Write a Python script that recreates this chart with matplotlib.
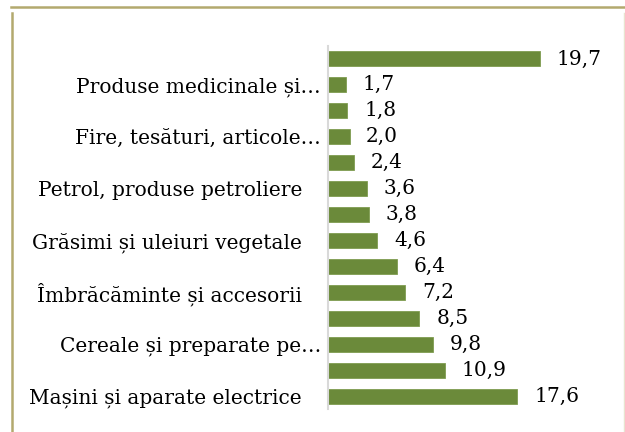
import matplotlib
matplotlib.use("Agg")
import matplotlib.pyplot as plt
from matplotlib.lines import Line2D

categories = [
    "Mașini și aparate electrice   ", "",
    "Cereale și preparate pe…", "",
    "Îmbrăcăminte și accesorii   ", "",
    "Grăsimi și uleiuri vegetale   ", "",
    "Petrol, produse petroliere   ", "",
    "Fire, tesături, articole…", "",
    "Produse medicinale și…", "",
]
values = [17.6, 10.9, 9.8, 8.5, 7.2, 6.4, 4.6, 3.8, 3.6, 2.4, 2.0, 1.8, 1.7, 19.7]
value_labels = [f"{v:.1f}".replace(".", ",") for v in values]

W, H = 625, 432
fig = plt.figure(figsize=(W / 100, H / 100), dpi=100)
fig.patch.set_facecolor("white")

px_per_unit = 10.76
ax_w = 270
ax = fig.add_axes([328 / W, (H - 409) / H, ax_w / W, 363 / H])
ypos = list(range(len(values)))
ax.barh(ypos, values, height=0.58, color="#6B8A3A", edgecolor="#7F9C50", linewidth=0.6)
ax.set_xlim(0, ax_w / px_per_unit)
ax.set_ylim(-0.5, len(values) - 0.5)
ax.set_yticks(ypos)
ax.set_yticklabels(categories, fontsize=14.5, family="DejaVu Serif")
ax.tick_params(axis="y", length=0, pad=5)
ax.set_xticks([])
for s in ["top", "right", "bottom"]:
    ax.spines[s].set_visible(False)
ax.spines["left"].set_color("#D9D9D9")
ax.spines["left"].set_linewidth(1.5)

for y, v, t in zip(ypos, values, value_labels):
    ax.annotate(t, (v, y), xytext=(12, 0), textcoords="offset points",
                va="center", ha="left", fontsize=14.5, family="DejaVu Serif")

# figure border
col = "#B3A96E"
fig.add_artist(Line2D([11 / W, 1], [1 - 7 / H, 1 - 7 / H], transform=fig.transFigure, color=col, lw=1.8))
fig.add_artist(Line2D([12 / W, 12 / W], [0, 1 - 13 / H], transform=fig.transFigure, color=col, lw=1.8))
fig.add_artist(Line2D([623.5 / W, 623.5 / W], [0, 1 - 13 / H], transform=fig.transFigure, color="#E8E4D0", lw=1.0))

fig.savefig("out.png", dpi=100, facecolor="white")
